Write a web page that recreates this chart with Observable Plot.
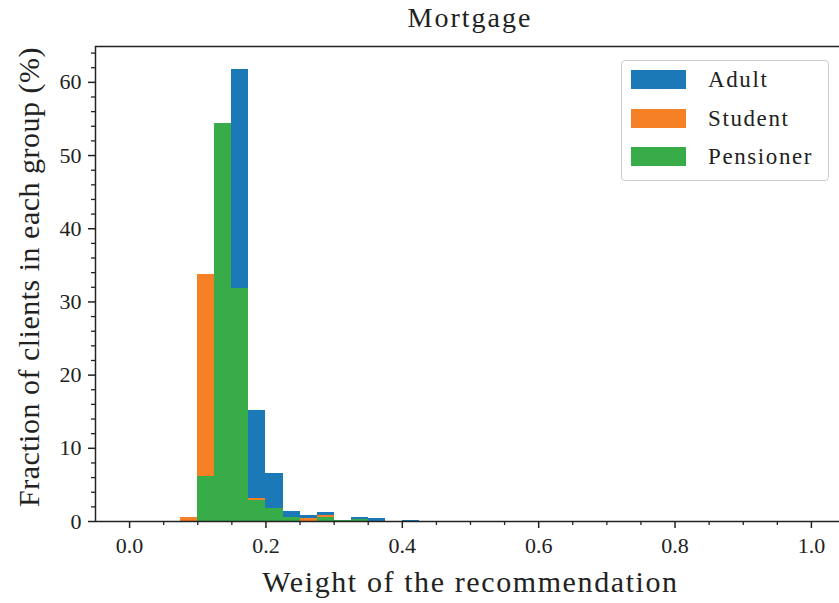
<!DOCTYPE html>
<html>
<head>
<meta charset="utf-8">
<script src="https://cdn.jsdelivr.net/npm/d3@7"></script>
<script src="https://cdn.jsdelivr.net/npm/@observablehq/plot@0.6"></script>
<style>
html, body { margin: 0; padding: 0; background: #fff; overflow: hidden; width: 839px; height: 603px; }
#wrap { position: relative; width: 839px; height: 603px; font-family: "Liberation Serif", serif; color: #222; }
#chart { position: absolute; left: 0; top: 0; }
#title { position: absolute; left: 95px; width: 750px; top: 4px; text-align: center; font-size: 28px; line-height: 28px; letter-spacing: 2px; z-index: 2; }
#legend { position: absolute; left: 621px; top: 60px; width: 206px; height: 119px; border: 1.5px solid #cccccc; border-radius: 4px; background: rgba(255,255,255,0.8); z-index: 2; }
.row { position: absolute; left: 9px; height: 19px; }
.sw { position: absolute; left: 0; top: 0; width: 55px; height: 19px; }
.lab { position: absolute; left: 77px; top: -5px; font-size: 23px; line-height: 30px; white-space: nowrap; letter-spacing: 1.6px; }
</style>
</head>
<body>
<div id="wrap">
  <div id="chart"></div>
  <div id="title">Mortgage</div>
  <div id="legend"></div>
</div>
<script>
// Histogram bins (lower edges), bin width 0.025
const binLo = [0.075, 0.1, 0.125, 0.15, 0.175, 0.2, 0.225, 0.25, 0.275, 0.3, 0.325, 0.35, 0.4];
const binWidth = 0.025;
// Fraction of clients in each group (%) per bin
const adult     = [0.0, 2.0, 10.0, 61.8, 15.2, 6.6, 1.4, 0.85, 1.25, 0.0, 0.55, 0.4, 0.15];
const student   = [0.5, 33.8, 48.0, 13.4, 3.1, 0.0, 0.0, 0.45, 0.85, 0.0, 0.0, 0.0, 0.0];
const pensioner = [0.0, 6.2, 54.4, 31.9, 2.9, 1.8, 0.55, 0.0, 0.55, 0.18, 0.3, 0.0, 0.0];

const groups = ["Adult", "Student", "Pensioner"];
const colors = ["#1c79b8", "#f58025", "#37ac48"];
const series = [adult, student, pensioner];

const xTicks = [0.0, 0.2, 0.4, 0.6, 0.8, 1.0];
const xMinor = [0.05, 0.1, 0.15, 0.25, 0.3, 0.35, 0.45, 0.5, 0.55, 0.65, 0.7, 0.75, 0.85, 0.9, 0.95];
const yTicks = [0, 10, 20, 30, 40, 50, 60];
const yMinor = [2, 4, 6, 8, 12, 14, 16, 18, 22, 24, 26, 28, 32, 34, 36, 38, 42, 44, 46, 48, 52, 54, 56, 58, 62, 64];

const xLabel = "Weight of the recommendation";
const yLabel = "Fraction of clients in each group (%)";

const rows = [];
groups.forEach((g, gi) => {
  series[gi].forEach((v, i) => {
    if (v > 0) rows.push({group: g, x1: binLo[i], x2: binLo[i] + binWidth, y: v});
  });
});

const ink = "#222";
const plot = Plot.plot({
  width: 839,
  height: 603,
  marginTop: 46,
  marginBottom: 82,
  marginLeft: 95,
  marginRight: -6,
  x: {domain: [-0.05, 1.05], label: null},
  y: {domain: [0, 64.9], label: null},
  style: {fontFamily: "Liberation Serif, serif", fontSize: "22px", color: ink, background: "transparent"},
  marks: [
    ...groups.map((g, gi) => Plot.rectY(rows.filter(d => d.group === g), {x1: "x1", x2: "x2", y: "y", fill: colors[gi], shapeRendering: "crispEdges"})),
    Plot.axisX(xMinor, {tickSize: 4, text: null, label: null, strokeWidth: 1.3, stroke: ink}),
    Plot.axisX(xTicks, {tickSize: 7, tickPadding: 9, tickFormat: d3.format(".1f"), label: null, strokeWidth: 1.5, stroke: ink, fontSize: 22, fill: ink}),
    Plot.axisY(yMinor, {tickSize: 4, text: null, label: null, strokeWidth: 1.3, stroke: ink}),
    Plot.axisY(yTicks, {tickSize: 7, tickPadding: 7, label: null, strokeWidth: 1.5, stroke: ink, fontSize: 22, fill: ink}),
    Plot.frame({stroke: ink, strokeWidth: 1.5}),
    Plot.text([xLabel], {frameAnchor: "bottom", dy: 61, fontSize: 30, fill: ink, lineAnchor: "middle", textAnchor: "middle"}),
    Plot.text([yLabel], {frameAnchor: "left", dx: -66, dy: -7, rotate: -90, fontSize: 30, fill: ink, lineAnchor: "middle", textAnchor: "middle"})
  ]
});
document.getElementById("chart").appendChild(plot);
d3.select(plot).selectAll("text").filter(function() {
  return this.textContent === xLabel;
}).style("letter-spacing", "1.6px");
d3.select(plot).selectAll("text").filter(function() {
  return this.textContent === yLabel;
}).style("letter-spacing", "0.5px");

// Legend
const legend = document.getElementById("legend");
groups.forEach((g, gi) => {
  const row = document.createElement("div");
  row.className = "row";
  row.style.top = (9 + gi * 38.5) + "px";
  row.innerHTML = `<div class="sw" style="background:${colors[gi]}"></div><div class="lab">${g}</div>`;
  legend.appendChild(row);
});
</script>
</body>
</html>
